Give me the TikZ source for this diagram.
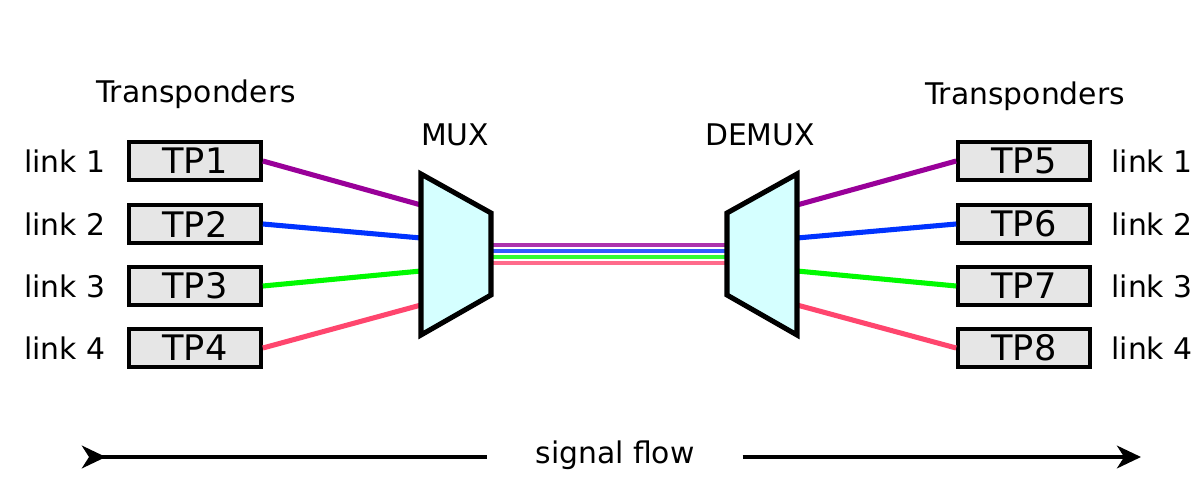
\documentclass[tikz,border=0pt]{standalone}
\usepackage{fontspec}
\setmainfont{DejaVu Sans}
\usetikzlibrary{positioning, arrows.meta}
\definecolor{WDMPurple}{RGB}{153,0,153}
\definecolor{WDMBlue}{RGB}{0,51,255}
\definecolor{WDMGreen}{RGB}{0,250,0}
\definecolor{WDMPink}{RGB}{255,70,110}
\definecolor{WDMBox}{RGB}{230,230,230}
\definecolor{WDMCyan}{RGB}{213,255,255}

\begin{document}
\begin{tikzpicture}[x=0.025cm, y=-0.025cm,
      tp/.style={rectangle, draw=black, fill=WDMBox, line width=2.6pt,
                 minimum width=93.9pt, minimum height=27pt, inner sep=0pt,
                 font=\fontsize{25}{28}\selectfont},
      lbl/.style={inner sep=0pt, font=\fontsize{21.2}{24}\selectfont},
      mx/.style={draw=black, fill=WDMCyan, line width=3.6pt, line join=miter},
      link/.style={line width=3.6pt},
      fibre/.style={line width=2.2pt},
      flow/.style={line width=3pt}
    ]
    \useasboundingbox (0,0) rectangle (1202,486);

    %--- Transponders (left) ---
    \node[lbl] (tpleft) at (196,94) {Transponders};
    \foreach \i/\y in {1/161, 2/224, 3/286, 4/348} {
      \node[tp] (tp\i) at (195,\y) {TP\i};
      \node[lbl] (lnk\i) at (65,\y) {link \i};
    }

    %--- Transponders (right) ---
    \node[lbl] (tpright) at (1025,96) {Transponders};
    \foreach \i/\j/\y in {5/1/161, 6/2/224, 7/3/286, 8/4/348} {
      \node[tp] (tp\i) at (1024,\y) {TP\i};
      \node[lbl] (lnk\i) at (1152,\y) {link \j};
    }

    %--- ports of MUX / DEMUX ---
    \foreach \i/\a/\b in {1/205/245, 2/238/251, 3/271/257, 4/305/263} {
      \coordinate (muxin\i) at (421,\a);
      \coordinate (muxout\i) at (491,\b);
      \coordinate (demuxin\i) at (727,\b);
      \coordinate (demuxout\i) at (797,\a);
    }

    % Links and fibre
    \foreach \i/\j/\c in {1/5/WDMPurple, 2/6/WDMBlue, 3/7/WDMGreen, 4/8/WDMPink} {
      \draw[link, \c] (tp\i.east) -- (muxin\i);
      \draw[link, \c] (demuxout\i) -- (tp\j.west);
      \draw[fibre, \c!80] (muxout\i) -- (demuxin\i);
    }

    %--- MUX / DEMUX ---
    \draw[mx] (421,174) -- (491,213) -- (491,295) -- (421,335) -- cycle;
    \draw[mx] (797,174) -- (727,213) -- (727,295) -- (797,335) -- cycle;
    \node[lbl] (mux) at (455,135) {MUX};
    \node[lbl] (demux) at (760,135) {DEMUX};

    %--- signal flow ---
    \coordinate (flowstart) at (82,457);
    \coordinate (flowend) at (1141,457);
    \node[lbl, inner xsep=34pt] (sflow) at (615,455) {signal flow};
    \draw[flow, {Stealth[reversed, length=17pt, width=16pt, inset=5pt]}-]
          (flowstart) -- (flowstart -| sflow.west);
    \draw[flow, -{Stealth[length=17pt, width=16pt, inset=5pt]}]
          (flowend -| sflow.east) -- (flowend);
  \end{tikzpicture}
\end{document}
